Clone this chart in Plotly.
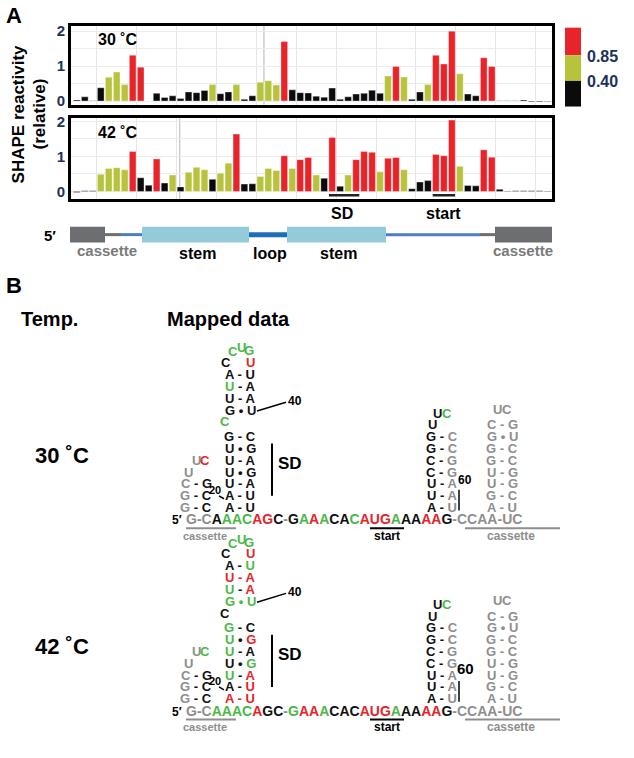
import plotly.graph_objects as go

W, H = 634, 758

# ---------------- data ----------------
positions = list(range(60))          # nucleotide = position + 9
react_30 = [0.03, 0.12, 0.01, 0.38, 0.68, 0.83, 0.47, 1.31, 0.97, 0.0,
            0.22, 0.10, 0.15, 0.07, 0.26, 0.24, 0.30, 0.47, 0.21, 0.26,
            0.47, 0.05, 0.15, 0.54, 0.58, 0.46, 1.70, 0.32, 0.24, 0.23,
            0.14, 0.11, 0.37, 0.05, 0.12, 0.20, 0.22, 0.31, 0.22, 0.72,
            0.99, 0.69, 0.05, 0.26, 0.47, 1.31, 1.06, 2.00, 0.78, 0.20,
            0.15, 1.24, 0.99, 0.01, 0.01, 0.01, 0.03, -0.02, -0.02, -0.01]
react_42 = [-0.03, 0.02, 0.02, 0.49, 0.66, 0.68, 0.62, 1.14, 0.39, 0.18,
            0.93, 0.24, 0.47, 0.13, 0.55, 0.69, 0.62, 0.35, 0.52, 0.81,
            1.64, 0.21, 0.22, 0.43, 0.66, 0.60, 1.02, 0.66, 0.91, 0.97,
            0.47, 0.38, 1.54, 0.15, 0.47, 0.91, 1.14, 1.12, 0.56, 0.95,
            0.97, 0.62, 0.08, 0.27, 0.31, 1.06, 1.02, 2.04, 0.72, 0.17,
            0.16, 1.19, 0.98, 0.06, 0.01, 0.02, 0.02, 0.02, 0.02, 0.01]
thresholds = [0.40, 0.85]
threshold_labels = ["0.85", "0.40"]
bin_colors = ["#0b0b0b", "#b8c33c", "#e8242b"]
ytick_vals = [0, 1, 2]
grid_x = [2.5 + 5 * k for k in range(12)]
panel_labels = ["30 ˚C", "42 ˚C"]
SD_span = [31.6, 35.4]
start_span = [44.6, 47.4]
marker_lines = [23.45, 12.9]   # thin grey marker line in each panel

# RNA sequence of nucleotides 12..62 (mapped region)
seq_start = 12
seq_12_62 = "AAACAGCAAUUUUGCGUUACCUGUUAAUCGAGAUUGAAACACAUGAAAAAG"
# bottom line of the drawing: characters and their nucleotide numbers (0 = cassette / bond)
row_seq = "G-CAAACAGC-GAAACACAUGAAAAAG-CCAA-UC"
row_nt = [0, 0, 0, 12, 13, 14, 15, 16, 17, 18, 0, 47, 48, 49, 50, 51, 52, 53,
          54, 55, 56, 57, 58, 59, 60, 61, 62, 0, 0, 0, 0, 0, 0, 0, 0]
# central hairpin: (left nt, bond, right nt), bottom -> top ; None = bulge nt 26
central_pairs = [(19, "-", 46), (20, "-", 45), (21, "-", 44), (22, "•", 43),
                 (23, "-", 42), (24, "•", 41), (25, "-", 40), None,
                 (27, "•", 39), (28, "-", 38), (29, "-", 37), (30, "-", 36)]
bulge_nt = 26
loop_nts = [31, 32, 33, 34, 35]
# cassette hairpins (no SHAPE data)
left_pairs = ["G-C", "G-C", "C-G"]
left_loop = "UUC"
left_loop_cols = {"30": "eer", "42": "eeg"}
rh1_pairs = ["A-U", "U-A", "U-A", "C-G", "C-G", "G-C", "G-C"]
rh1_loop = "UUC"
rh2_pairs = ["A-U", "G-C", "U-G", "U-G", "G-C", "G-C", "G•U", "C-G"]
rh2_loop = "UC"


def bin_of(v):
    if v >= thresholds[1]:
        return 2
    if v >= thresholds[0]:
        return 1
    return 0


def fx(px):
    return px / W


def fy(py):
    return 1 - py / H


fig = go.Figure()
for vals, ax in [(react_30, ""), (react_42, "2")]:
    fig.add_trace(go.Bar(
        x=positions, y=vals,
        marker=dict(color=[bin_colors[bin_of(v)] for v in vals],
                    line=dict(color="rgba(255,255,255,0.6)", width=0.6)),
        xaxis="x" + ax, yaxis="y" + ax, showlegend=False, width=0.84))

navy = "#1c3358"
FONT = "Arial, Liberation Sans, sans-serif"
common_x = dict(range=[-0.73, 59.55], showline=True, linewidth=3, linecolor="black",
                mirror=True, tickvals=grid_x, showticklabels=False, ticks="",
                showgrid=True, gridcolor="#e6e6e6", gridwidth=1, zeroline=False)
common_y = dict(showline=True, linewidth=3, linecolor="black", mirror=True,
                tickvals=ytick_vals, ticks="", showgrid=True, gridcolor="#ececec",
                minor=dict(tickvals=[0.5, 1.5], showgrid=True, gridcolor="#ececec"),
                zeroline=False,
                tickfont=dict(family=FONT, size=15, color=navy, weight="bold"))

DY = -4  # vertical nudge of panel A
fig.update_layout(
    width=W, height=H, margin=dict(l=0, r=0, t=0, b=0),
    paper_bgcolor="white", plot_bgcolor="white", bargap=0.16,
    xaxis=dict(domain=[fx(71), fx(552)], anchor="y", **common_x),
    yaxis=dict(domain=[fy(104 + DY), fy(24 + DY)], anchor="x", range=[-0.10, 2.155], **common_y),
    xaxis2=dict(domain=[fx(71), fx(552)], anchor="y2", **common_x),
    yaxis2=dict(domain=[fy(200 + DY), fy(118 + DY)], anchor="x2", range=[-0.22, 2.09], **common_y),
)

shapes = []
ann = []


def text(x, y, s, size=12, color="black", bold=True, xanchor="center", angle=0):
    ann.append(dict(x=fx(x), y=fy(y), xref="paper", yref="paper", text=s,
                    showarrow=False, xanchor=xanchor, yanchor="middle", textangle=angle,
                    borderpad=0,
                    font=dict(family=FONT, size=size, color=color,
                              weight="bold" if bold else "normal")))


def rect(x0, y0, x1, y1, color):
    shapes.append(dict(type="rect", xref="paper", yref="paper", x0=fx(x0), x1=fx(x1),
                       y0=fy(y1), y1=fy(y0), fillcolor=color, line=dict(width=0), layer="above"))


def line(x0, y0, x1, y1, color="black", width=1.5):
    shapes.append(dict(type="line", xref="paper", yref="paper", x0=fx(x0), x1=fx(x1),
                       y0=fy(y0), y1=fy(y1), line=dict(color=color, width=width), layer="above"))


# thin marker lines inside the panels
for xv, (xr_, yr_) in zip(marker_lines, [("x", "y"), ("x2", "y2")]):
    shapes.append(dict(type="line", xref=xr_, yref=yr_ + " domain", x0=xv, x1=xv, y0=0, y1=1,
                       line=dict(color="#b5b5b5", width=1), layer="below"))

# ---- Panel A texts ----
text(14, 10, "A", 22)
text(97, 34, panel_labels[0], 16, xanchor="left")
text(97, 128, panel_labels[1], 16, xanchor="left")
text(18, 110, "SHAPE reactivity", 17, angle=-90)
text(39, 110, "(relative)", 17, angle=-90)

rect(565, 22, 581, 50, bin_colors[2])
rect(565, 50, 581, 76, bin_colors[1])
rect(565, 76, 581, 102, bin_colors[0])
text(586, 51, threshold_labels[0], 16, color=navy, xanchor="left")
text(586, 77, threshold_labels[1], 16, color=navy, xanchor="left")

for sp in (SD_span, start_span):
    shapes.append(dict(type="line", xref="x2", yref="y2", x0=sp[0], x1=sp[1],
                       y0=-0.11, y1=-0.11, line=dict(color="#222", width=2.5), layer="above"))
text(342, 211, "SD", 16)
text(443, 211, "start", 16)

grey = "#6d6e71"
SY = 232
rect(70, SY - 8, 105, SY + 8, grey)
line(105, SY, 121, SY, grey, 3)
line(121, SY, 142, SY, "#4a7fc1", 3)
rect(142, SY - 8, 249, SY + 8, "#93ccd8")
line(249, SY, 287, SY, "#1c6fb6", 5)
rect(287, SY - 8, 386, SY + 8, "#93ccd8")
line(386, SY, 480, SY, "#4a7fc1", 3)
line(480, SY, 495, SY, grey, 3)
rect(495, SY - 8, 552, SY + 8, grey)
text(50, SY + 1, "5′", 15)
text(107, SY + 16, "cassette", 15, color="#7a7a7a")
text(197, SY + 19, "stem", 16)
text(270, SY + 19, "loop", 16)
text(338, SY + 19, "stem", 16)
text(523, SY + 16, "cassette", 15, color="#7a7a7a")

# ---- Panel B ----
text(14, 284, "B", 22)
text(49, 318, "Temp.", 20)
text(228, 318, "Mapped data", 20)
text(62, 456, "30 ˚C", 22)
text(62, 650, "42 ˚C", 22)

CMAP = {"k": "#111111", "g": "#4cb848", "r": "#e8242b", "e": "#8e8e8e"}
LS = 13
ROW = 12.0


def nt_letter(nt):
    return seq_12_62[nt - seq_start]


def nt_color(nt, vals):
    if nt <= 0:
        return CMAP["e"]
    b = bin_of(vals[nt - 9])
    return [CMAP["k"], CMAP["g"], CMAP["r"]][b]


def span(s, c):
    return "<span style='color:%s'>%s</span>" % (c, s)


def pair_row(xl, xr, y, l, b, r, cl, cr):
    bc = cl if cl == cr else "#111111"
    s = span(l, cl) + span(" " + b + " ", bc) + span(r, cr)
    text((xl + xr) / 2, y, s, LS)


def structure(base_y, vals, tag, big60):
    # bottom line
    s = ""
    for ch, nt in zip(row_seq, row_nt):
        s += span(ch, nt_color(nt, vals) if nt else CMAP["e"])
    text(185, base_y, s, 14, xanchor="left")
    text(177, base_y + 1, "5′", 12)
    # left cassette hairpin
    for k, p in enumerate(left_pairs):
        pair_row(189, 203, base_y - ROW * (k + 1), p[0], p[1], p[2], CMAP["e"], CMAP["k"])
    lc = left_loop_cols[tag]
    text(188, base_y - ROW * 4, left_loop[0], LS, color=CMAP[lc[0]])
    text(196, base_y - ROW * 5, left_loop[1], LS, color=CMAP[lc[1]])
    text(205, base_y - ROW * 5, left_loop[2], LS, color=CMAP[lc[2]])
    # central hairpin
    xl, xr = 230, 250
    y = base_y
    for p in central_pairs:
        if p is None:
            y -= ROW + 3
            text(xl - 5, y, nt_letter(bulge_nt), LS, color=nt_color(bulge_nt, vals))
            continue
        y -= ROW
        ln, b, rn = p
        pair_row(xl, xr, y, nt_letter(ln), b, nt_letter(rn),
                 nt_color(ln, vals), nt_color(rn, vals))
    y -= ROW
    c = [nt_color(n, vals) for n in loop_nts]
    t = [nt_letter(n) for n in loop_nts]
    text(xl - 4, y, t[0], LS, color=c[0])
    text(xr, y, t[4], LS, color=c[4])
    text(xl + 3, y - ROW + 1, t[1], LS, color=c[1])
    text(xl + 11, y - ROW - 3, t[2], LS, color=c[2])
    text(xl + 19, y - ROW, t[3], LS, color=c[3])
    # labels in central hairpin
    text(215, base_y - 30, "20", 11)
    line(219, base_y - 24, 224, base_y - 21, "black", 1.5)
    y40 = base_y - ROW * 9 - 3
    line(257, y40 + 1, 286, y40 - 8, "black", 1.5)
    text(295, y40 - 9, "40", 12)
    line(272, base_y - 77, 272, base_y - 24, "black", 2)
    text(290, base_y - 57, "SD", 17)
    # right cassette hairpin 1
    for k, p in enumerate(rh1_pairs):
        pair_row(434, 449, base_y - ROW * (k + 1), p[0], p[1], p[2], CMAP["k"], CMAP["e"])
    text(432, base_y - ROW * 8, rh1_loop[0], LS, color=CMAP["k"])
    text(437, base_y - ROW * 9, rh1_loop[1], LS, color=CMAP["k"])
    text(447, base_y - ROW * 9, rh1_loop[2], LS, color=CMAP["g"])
    # right cassette hairpin 2
    for k, p in enumerate(rh2_pairs):
        pair_row(494, 510, base_y - ROW * (k + 1), p[0], p[1], p[2], CMAP["e"], CMAP["e"])
    text(497, base_y - ROW * 9.3, rh2_loop[0], LS, color=CMAP["e"])
    text(507, base_y - ROW * 9.3, rh2_loop[1], LS, color=CMAP["e"])
    # 60 label
    line(459, base_y - 9, 459, base_y - 30, "black", 1.5)
    if big60:
        text(465, base_y - 43, "60", 15)
    else:
        text(465, base_y - 40, "60", 12)
    # underlines and labels
    line(186, base_y + 9, 236, base_y + 9, "#8e8e8e", 2)
    text(205, base_y + 17, "cassette", 11, color="#8e8e8e")
    line(370, base_y + 9, 404, base_y + 9, "black", 2)
    text(387, base_y + 17, "start", 12)
    line(465, base_y + 9, 560, base_y + 9, "#8e8e8e", 2)
    text(511, base_y + 17, "cassette", 12, color="#8e8e8e")


structure(521, react_30, "30", False)
structure(715, react_42, "42", True)

fig.update_layout(shapes=shapes, annotations=ann)
fig.write_html("out.html", config={"displayModeBar": False},
               post_script="document.body.style.margin='0';")
